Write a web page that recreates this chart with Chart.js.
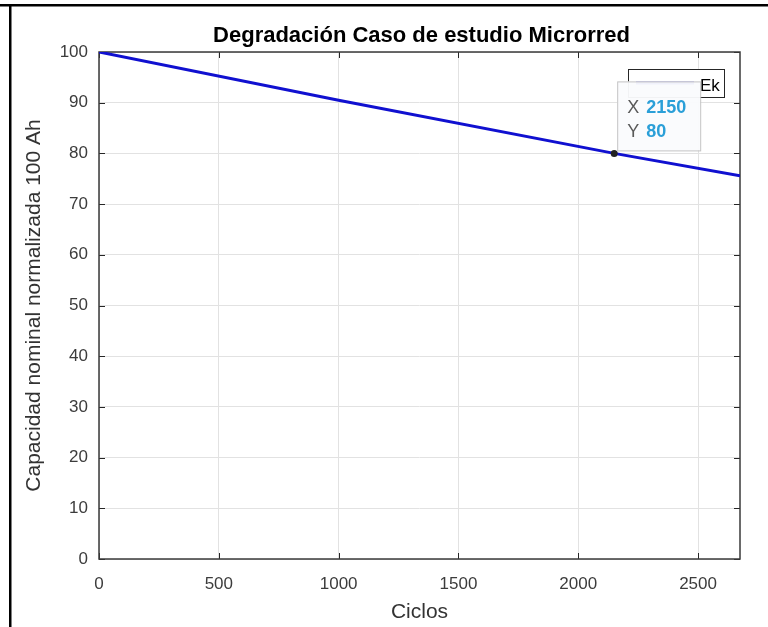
<!DOCTYPE html>
<html><head><meta charset="utf-8">
<script src="https://cdn.jsdelivr.net/npm/chart.js@4.4.0/dist/chart.umd.min.js"></script>
<style>html,body{margin:0;padding:0;background:#fff;}#wrap{position:relative;width:768px;height:627px;overflow:hidden;}canvas{display:block;}</style>
</head><body><div id="wrap"><canvas id="c" width="768" height="627"></canvas></div>
<script>
const titleText = 'Degradación Caso de estudio Microrred';
const xLabel = 'Ciclos';
const yLabel = 'Capacidad nominal normalizada 100 Ah';
const seriesName = 'Ek';
const cycles = [0, 1000, 2150, 2675];
const capacity = [100, 90.5, 80, 75.6];
const tipX = 2150;
const tipY = 80;
const xTicks = [0, 500, 1000, 1500, 2000, 2500];
const yTicks = [0, 10, 20, 30, 40, 50, 60, 70, 80, 90, 100];
const xMin = 0, xMax = 2675, yMin = 0, yMax = 100;

const FONT = "'Liberation Sans', Arial, Helvetica, sans-serif";
const AXC = '#262626';

function ln(ctx, x1, y1, x2, y2) { ctx.beginPath(); ctx.moveTo(x1, y1); ctx.lineTo(x2, y2); ctx.stroke(); }

const deco = {
  id: 'deco',
  beforeDatasetsDraw(chart) {
    const { ctx, chartArea: a, scales: { x, y } } = chart;
    ctx.save();
    ctx.strokeStyle = AXC; ctx.lineWidth = 1;
    xTicks.forEach(v => {
      const px = Math.round(x.getPixelForValue(v)) + 0.5;
      ln(ctx, px, a.bottom, px, a.bottom - 6);
      ln(ctx, px, a.top, px, a.top + 6);
    });
    yTicks.forEach(v => {
      const py = Math.round(y.getPixelForValue(v)) + 0.5;
      ln(ctx, a.left, py, a.left + 6, py);
      ln(ctx, a.right, py, a.right - 6, py);
    });
    ctx.lineWidth = 1.5;
    ctx.strokeStyle = '#3a3a3a';
    ctx.strokeRect(a.left, a.top, a.right - a.left, a.bottom - a.top);
    ctx.restore();
  },
  afterDraw(chart) {
    const { ctx, chartArea: a, scales: { x, y } } = chart;
    ctx.save();
    // title
    ctx.fillStyle = '#000';
    ctx.font = 'bold 22px ' + FONT;
    ctx.textAlign = 'center'; ctx.textBaseline = 'alphabetic';
    ctx.fillText(titleText, (a.left + a.right) / 2 + 2, 42);
    // legend box
    const lx = 628, ly = 69, lw = 96, lh = 28;
    ctx.fillStyle = '#fff'; ctx.fillRect(lx, ly, lw, lh);
    ctx.strokeStyle = AXC; ctx.lineWidth = 1;
    ctx.strokeRect(lx + 0.5, ly + 0.5, lw, lh);
    ctx.strokeStyle = '#1010d0'; ctx.lineWidth = 3;
    ln(ctx, lx + 8, ly + lh / 2, lx + 66, ly + lh / 2);
    ctx.fillStyle = '#000'; ctx.font = '17px ' + FONT; ctx.textAlign = 'left';
    ctx.fillText(seriesName, lx + 72, ly + 22);
    // datatip point
    const px = x.getPixelForValue(tipX), py = y.getPixelForValue(tipY);
    // datatip box
    const bx = px + 3, by = py - 72, bw = 83, bh = 69;
    ctx.fillStyle = 'rgba(250,251,253,0.96)';
    ctx.fillRect(bx, by, bw, bh);
    ctx.strokeStyle = '#c4c4c4'; ctx.lineWidth = 1;
    ctx.strokeRect(bx + 0.5, by + 0.5, bw, bh);
    ctx.font = '18px ' + FONT; ctx.fillStyle = '#5a5a5a';
    ctx.fillText('X', bx + 10, by + 32);
    ctx.fillText('Y', bx + 10, by + 56);
    ctx.font = 'bold 18px ' + FONT; ctx.fillStyle = '#2a9fd8';
    ctx.fillText(String(tipX), bx + 29, by + 32);
    ctx.fillText(String(tipY), bx + 29, by + 56);
    ctx.fillStyle = '#222';
    ctx.beginPath(); ctx.arc(px, py, 3.5, 0, Math.PI * 2); ctx.fill();
    // outer frame (top & left)
    ctx.fillStyle = '#000';
    ctx.fillRect(0, 4, 768, 2.5);
    ctx.fillRect(9, 4, 2.5, 623);
    ctx.restore();
  }
};

new Chart(document.getElementById('c'), {
  type: 'line',
  data: {
    datasets: [{
      label: seriesName,
      data: cycles.map((c, i) => ({ x: c, y: capacity[i] })),
      borderColor: '#1010d0',
      borderWidth: 3,
      pointRadius: 0,
      tension: 0,
      fill: false
    }]
  },
  options: {
    responsive: false,
    animation: false,
    layout: { padding: { left: 0, right: 28, top: 52, bottom: 0 } },
    plugins: { legend: { display: false }, title: { display: false }, tooltip: { enabled: false } },
    scales: {
      x: {
        type: 'linear', min: xMin, max: xMax,
        afterBuildTicks(s) { s.ticks = xTicks.map(v => ({ value: v })); },
        afterFit(s) { s.height = 68; },
        grid: { color: '#e2e2e2', lineWidth: 1, drawTicks: false },
        border: { display: false },
        ticks: { padding: 15, color: '#3c3c3c', font: { family: FONT, size: 17 }, maxRotation: 0, autoSkip: false, callback: v => String(v) },
        title: { display: true, text: xLabel, color: '#333', font: { family: FONT, size: 21 }, padding: { top: 0, bottom: 2 } }
      },
      y: {
        type: 'linear', min: yMin, max: yMax,
        afterBuildTicks(s) { s.ticks = yTicks.map(v => ({ value: v })); },
        afterFit(s) { s.width = 99; },
        grid: { color: '#e2e2e2', lineWidth: 1, drawTicks: false },
        border: { display: false },
        ticks: { padding: 11, color: '#3c3c3c', font: { family: FONT, size: 17 }, autoSkip: false, callback: v => String(v) },
        title: { display: true, text: yLabel, color: '#333', font: { family: FONT, size: 21 }, padding: { top: 22, bottom: 0 } }
      }
    }
  },
  plugins: [deco]
});
</script></body></html>
